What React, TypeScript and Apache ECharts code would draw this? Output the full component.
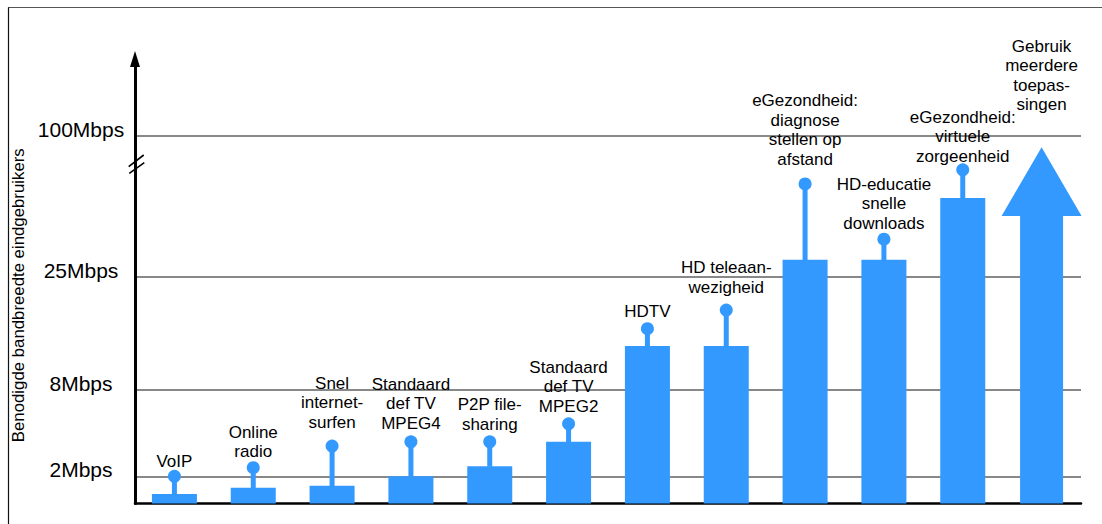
import React, { useEffect, useRef } from "react";
import * as echarts from "echarts";

// ---- data ----
const CATEGORIES = [
  "VoIP",
  "Online\nradio",
  "Snel\ninternet-\nsurfen",
  "Standaard\ndef TV\nMPEG4",
  "P2P file-\nsharing",
  "Standaard\ndef TV\nMPEG2",
  "HDTV",
  "HD teleaan-\nwezigheid",
  "eGezondheid:\ndiagnose\nstellen op\nafstand",
  "HD-educatie\nsnelle\ndownloads",
  "eGezondheid:\nvirtuele\nzorgeenheid",
  "Gebruik\nmeerdere\ntoepas-\nsingen",
];
// bar top (typical need) and pin top (peak need), in Mbps
const MIN_MBPS = [0.7, 1.15, 1.3, 2, 2.7, 4.4, 14.6, 14.6, 34, 34, 67, 57.4];
const MAX_MBPS = [2, 2.6, 4.1, 4.4, 4.4, 5.65, 17.2, 20, 74.5, 45, 82, 94];
const SHAPES = ["pin", "pin", "pin", "pin", "pin", "pin", "pin", "pin", "pin", "pin", "pin", "arrow"];
const TICK_MBPS = [2, 8, 25, 100];
const TICK_LABELS = ["2Mbps", "8Mbps", "25Mbps", "100Mbps"];
const AXIS_TITLE = "Benodigde bandbreedte eindgebruikers";

// schematic, non-linear bandwidth axis (piecewise linear knots)
const SCALE_MBPS = [0, 2, 8, 25, 100];
const SCALE_POS = [0, 0.6, 2.5, 5, 8.1];
const AXIS_MAX_POS = 9.8;

// ---- layout / style ----
const LABEL_GAP = [5, 6, 14, 9, 8, 8, 7, 13, 15, 6, 4, 33];
const BLUE = "#3399ff";
const FONT = "'Liberation Sans', Arial, Helvetica, sans-serif";

function toPos(m: number): number {
  for (let k = 1; k < SCALE_MBPS.length; k++) {
    if (m <= SCALE_MBPS[k] || k === SCALE_MBPS.length - 1) {
      const t = (m - SCALE_MBPS[k - 1]) / (SCALE_MBPS[k] - SCALE_MBPS[k - 1]);
      return SCALE_POS[k - 1] + t * (SCALE_POS[k] - SCALE_POS[k - 1]);
    }
  }
  return 0;
}

const TICK_POS = TICK_MBPS.map(toPos);

export default function App() {
  const ref = useRef<HTMLDivElement>(null);

  useEffect(() => {
    if (!ref.current) return;
    const chart = echarts.init(ref.current, undefined, { renderer: "svg" });

    const seriesData = CATEGORIES.map((_, i) => [i, toPos(MIN_MBPS[i]), toPos(MAX_MBPS[i])]);

    const renderItem = (params: any, api: any) => {
      const idx = params.dataIndex;
      const i = api.value(0);
      const base = api.coord([i, 0]);
      const cx = base[0];
      const y0 = base[1];
      const yTop = api.coord([i, api.value(1)])[1];
      const yPin = api.coord([i, api.value(2)])[1];
      const children: any[] = [];
      if (SHAPES[idx] === "arrow") {
        const sw = 43;
        const hw = 80;
        children.push({
          type: "rect",
          shape: { x: cx - sw / 2, y: yTop - 0.5, width: sw, height: y0 - yTop + 0.5 },
          style: { fill: BLUE },
        });
        children.push({
          type: "polygon",
          shape: { points: [[cx - hw / 2, yTop], [cx + hw / 2, yTop], [cx, yPin]] },
          style: { fill: BLUE },
        });
      } else {
        const bw = 45;
        children.push({
          type: "rect",
          shape: { x: cx - bw / 2, y: yTop, width: bw, height: y0 - yTop },
          style: { fill: BLUE },
        });
        children.push({
          type: "rect",
          shape: { x: cx - 2.5, y: yPin, width: 5, height: yTop - yPin + 0.5 },
          style: { fill: BLUE },
        });
        children.push({
          type: "circle",
          shape: { cx: cx, cy: yPin, r: 6.5 },
          style: { fill: BLUE },
        });
      }
      children.push({
        type: "text",
        x: cx,
        y: yPin - LABEL_GAP[idx],
        style: {
          text: CATEGORIES[idx],
          align: "center",
          verticalAlign: "bottom",
          fontSize: 17,
          lineHeight: 19.5,
          fontFamily: FONT,
          fill: "#000",
        },
      });
      return { type: "group", children };
    };

    const option: any = {
      animation: false,
      backgroundColor: "#fff",
      grid: {
        left: 135,
        right: 21,
        top: 59,
        bottom: 20.5,
        containLabel: false,
        outerBoundsMode: "none",
      },
      xAxis: {
        type: "category",
        data: CATEGORIES,
        boundaryGap: true,
        axisLine: { show: true, lineStyle: { color: "#000", width: 2.5 } },
        axisTick: { show: false },
        axisLabel: { show: false },
        splitLine: { show: false },
      },
      yAxis: {
        type: "value",
        min: 0,
        max: AXIS_MAX_POS,
        axisLine: {
          show: true,
          lineStyle: { color: "#000", width: 3 },
          symbol: ["none", "triangle"],
          symbolSize: [10, 16],
        },
        axisTick: { show: false, customValues: TICK_POS },
        axisLabel: {
          show: true,
          customValues: TICK_POS,
          formatter: (v: number) => {
            let best = 0;
            for (let k = 0; k < TICK_POS.length; k++) {
              if (Math.abs(TICK_POS[k] - v) < Math.abs(TICK_POS[best] - v)) best = k;
            }
            return TICK_LABELS[best];
          },
          fontSize: 21,
          fontFamily: FONT,
          color: "#000",
          align: "center",
          verticalAlign: "bottom",
          lineHeight: 13,
          margin: 54,
        },
        splitLine: { show: true, lineStyle: { color: "#888", width: 2 } },
        name: AXIS_TITLE,
        nameLocation: "middle",
        nameRotate: 90,
        nameGap: 108,
        nameTextStyle: {
          fontSize: 16.8,
          fontFamily: FONT,
          color: "#000",
          padding: [0, 28, 0, 0],
        },
      },
      series: [
        {
          type: "custom",
          renderItem,
          data: seriesData,
          encode: { x: 0, y: [1, 2] },
          clip: false,
          z: 5,
        },
      ],
      graphic: [
        {
          type: "line",
          shape: { x1: 8, y1: 7.5, x2: 1102, y2: 7.5 },
          style: { stroke: "#555", lineWidth: 1.2 },
          z: 10,
        },
        {
          type: "line",
          shape: { x1: 8.5, y1: 7.5, x2: 8.5, y2: 524 },
          style: { stroke: "#111", lineWidth: 1.2 },
          z: 10,
        },
        {
          type: "line",
          shape: { x1: 128.7, y1: 166.7, x2: 143.7, y2: 155 },
          style: { stroke: "#000", lineWidth: 1.6 },
          z: 10,
        },
        {
          type: "line",
          shape: { x1: 129.3, y1: 173.3, x2: 144.3, y2: 162.7 },
          style: { stroke: "#000", lineWidth: 1.6 },
          z: 10,
        },
      ],
    };

    chart.setOption(option);
    return () => chart.dispose();
  }, []);

  return (
    <div
      ref={ref}
      style={{ position: "fixed", left: 0, top: 0, width: 1102, height: 524, background: "#fff" }}
    />
  );
}
